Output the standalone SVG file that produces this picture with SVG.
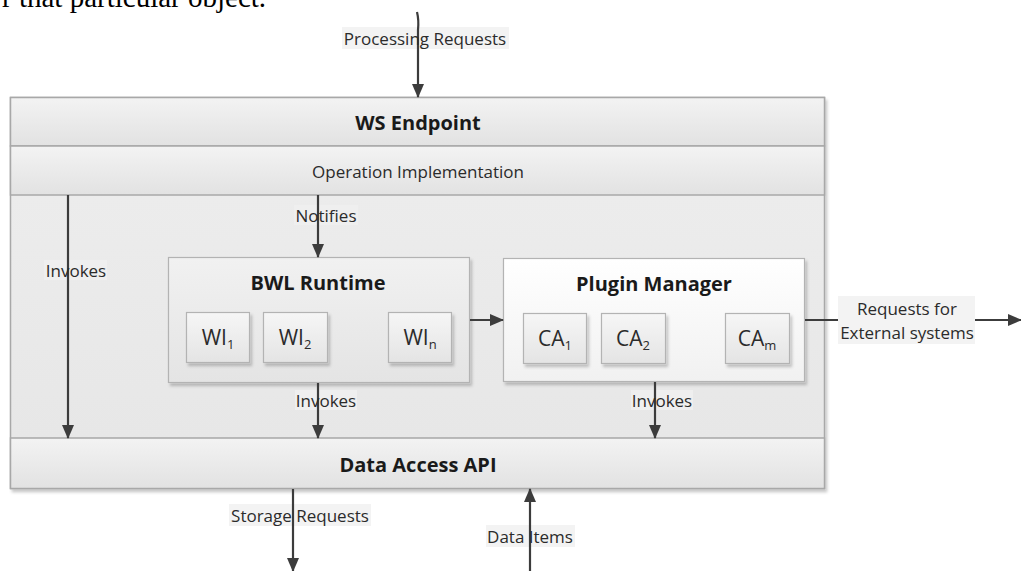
<svg xmlns="http://www.w3.org/2000/svg" width="1021" height="571" viewBox="0 0 1021 571">
<style>
  .lbl { font-family: "Open Sans", "Liberation Sans", sans-serif; font-size: 17px; fill: #2b2b2b; text-anchor: middle; dominant-baseline: central; }
  .ttl { font-family: "Open Sans", "Liberation Sans", sans-serif; font-size: 20px; font-weight: bold; fill: #1a1a1a; text-anchor: middle; dominant-baseline: central; }
  .sm { font-family: "Open Sans", "Liberation Sans", sans-serif; font-size: 21px; fill: #2b2b2b; text-anchor: middle; }
  .sub { font-size: 13px; }
  .box { stroke: #a8a8a8; stroke-width: 1.5; }
  .inner { stroke: #b3b3b3; stroke-width: 1.2; }
  .bgw { fill: #f3f3f3; }
  .bgg { fill: #f0f0f0; opacity: 0.85; }
  .arr { stroke: #3c3c3c; stroke-width: 2.2; fill: none; marker-end: url(#ah); }
</style>
<defs>
  <linearGradient id="gHead" x1="0" y1="0" x2="0" y2="1">
    <stop offset="0" stop-color="#f3f3f3"/>
    <stop offset="1" stop-color="#e2e2e2"/>
  </linearGradient>
  <linearGradient id="gMid" x1="0" y1="0" x2="0" y2="1">
    <stop offset="0" stop-color="#eeeeee"/>
    <stop offset="1" stop-color="#e6e6e6"/>
  </linearGradient>
  <linearGradient id="gBWL" x1="0" y1="0" x2="0" y2="1">
    <stop offset="0" stop-color="#f1f1f1"/>
    <stop offset="1" stop-color="#e4e4e4"/>
  </linearGradient>
  <linearGradient id="gPM" x1="0" y1="0" x2="0" y2="1">
    <stop offset="0" stop-color="#ffffff"/>
    <stop offset="1" stop-color="#f1f1f1"/>
  </linearGradient>
  <linearGradient id="gItem" x1="0" y1="0" x2="0" y2="1">
    <stop offset="0" stop-color="#f6f6f6"/>
    <stop offset="1" stop-color="#e4e4e4"/>
  </linearGradient>
  <filter id="sh" x="-5%" y="-5%" width="115%" height="120%">
    <feDropShadow dx="2" dy="3" stdDeviation="1.5" flood-color="#000" flood-opacity="0.22"/>
  </filter>
  <marker id="ah" viewBox="0 0 14 12" refX="13" refY="6" markerWidth="14" markerHeight="12" markerUnits="userSpaceOnUse" orient="auto">
    <path d="M0,0 L14,6 L0,12 z" fill="#3c3c3c"/>
  </marker>
</defs>

<rect width="1021" height="571" fill="#ffffff"/>

<text x="2" y="7" font-family="Liberation Serif, serif" font-size="29" fill="#000">r that particular object.</text>

<!-- Main container -->
<g id="main">
  <rect x="10.5" y="97.5" width="814" height="391" fill="url(#gMid)" class="box" filter="url(#sh)"/>
</g>

<g id="ws-endpoint">
  <rect x="10.5" y="97.5" width="814" height="48.5" fill="url(#gHead)" class="box"/>
  <text class="ttl" x="418" y="122">WS Endpoint</text>
</g>

<g id="operation-implementation">
  <rect x="10.5" y="146" width="814" height="49" fill="url(#gHead)" class="box"/>
  <text class="lbl" x="418" y="171">Operation Implementation</text>
</g>

<g id="data-access-api">
  <rect x="10.5" y="438" width="814" height="50.5" fill="url(#gHead)" class="box"/>
  <text class="ttl" x="418" y="464">Data Access API</text>
</g>

<g id="bwl-runtime">
  <rect x="168.5" y="257.5" width="301" height="125" fill="url(#gBWL)" class="inner" filter="url(#sh)"/>
  <text class="ttl" x="318" y="282">BWL Runtime</text>
  <g id="wi1">
    <rect x="186.5" y="312.5" width="63" height="50" fill="url(#gItem)" class="inner" filter="url(#sh)"/>
    <text class="sm" x="218" y="345">WI<tspan class="sub" dy="4">1</tspan></text>
  </g>
  <g id="wi2">
    <rect x="263.5" y="312.5" width="64" height="50" fill="url(#gItem)" class="inner" filter="url(#sh)"/>
    <text class="sm" x="295" y="345">WI<tspan class="sub" dy="4">2</tspan></text>
  </g>
  <g id="win">
    <rect x="388.5" y="312.5" width="63" height="50" fill="url(#gItem)" class="inner" filter="url(#sh)"/>
    <text class="sm" x="420" y="345">WI<tspan class="sub" dy="4">n</tspan></text>
  </g>
</g>

<g id="plugin-manager">
  <rect x="503.5" y="258.5" width="301" height="123" fill="url(#gPM)" class="inner" filter="url(#sh)"/>
  <text class="ttl" x="654" y="283">Plugin Manager</text>
  <g id="ca1">
    <rect x="523.5" y="313.5" width="63" height="50" fill="url(#gItem)" class="inner" filter="url(#sh)"/>
    <text class="sm" x="555" y="346">CA<tspan class="sub" dy="4">1</tspan></text>
  </g>
  <g id="ca2">
    <rect x="601.5" y="313.5" width="64" height="50" fill="url(#gItem)" class="inner" filter="url(#sh)"/>
    <text class="sm" x="633" y="346">CA<tspan class="sub" dy="4">2</tspan></text>
  </g>
  <g id="cam">
    <rect x="725.5" y="313.5" width="64" height="50" fill="url(#gItem)" class="inner" filter="url(#sh)"/>
    <text class="sm" x="757" y="346">CA<tspan class="sub" dy="4">m</tspan></text>
  </g>
</g>

<g id="connectors">
  <!-- label backgrounds under the lines -->
  <rect class="bgw" x="342" y="27" width="167" height="22"/>
  <rect class="bgg" x="294" y="205" width="64" height="20"/>
  <rect class="bgg" x="44" y="260" width="63" height="20"/>
  <rect class="bgg" x="295" y="390" width="62" height="20"/>
  <rect class="bgg" x="631" y="390" width="62" height="20"/>
  <rect class="bgw" x="229" y="504" width="142" height="22"/>
  <rect class="bgw" x="486" y="525" width="89" height="22"/>

  <path class="arr" d="M417,12 Q419,20 418,30 L418,97"/>
  <path class="arr" d="M318,195 L318,257"/>
  <path class="arr" d="M68,195 L68,438"/>
  <path class="arr" d="M318,383 L318,438"/>
  <path class="arr" d="M655,382 L655,438"/>
  <path class="arr" d="M470,320 L503,320"/>
  <path class="arr" d="M805,320 L1021,320"/>
  <path class="arr" d="M293,489 L293,571"/>
  <path class="arr" d="M530,571 L530,489"/>

  <rect class="bgw" x="838" y="296" width="137" height="48"/>

  <text class="lbl" x="425" y="38">Processing Requests</text>
  <text class="lbl" x="326" y="215">Notifies</text>
  <text class="lbl" x="76" y="270">Invokes</text>
  <text class="lbl" x="326" y="400">Invokes</text>
  <text class="lbl" x="662" y="400">Invokes</text>
  <text class="lbl" x="907" y="308">Requests for</text>
  <text class="lbl" x="907" y="332">External systems</text>
  <text class="lbl" x="300" y="515">Storage Requests</text>
  <text class="lbl" x="530" y="536">Data Items</text>
</g>
</svg>
